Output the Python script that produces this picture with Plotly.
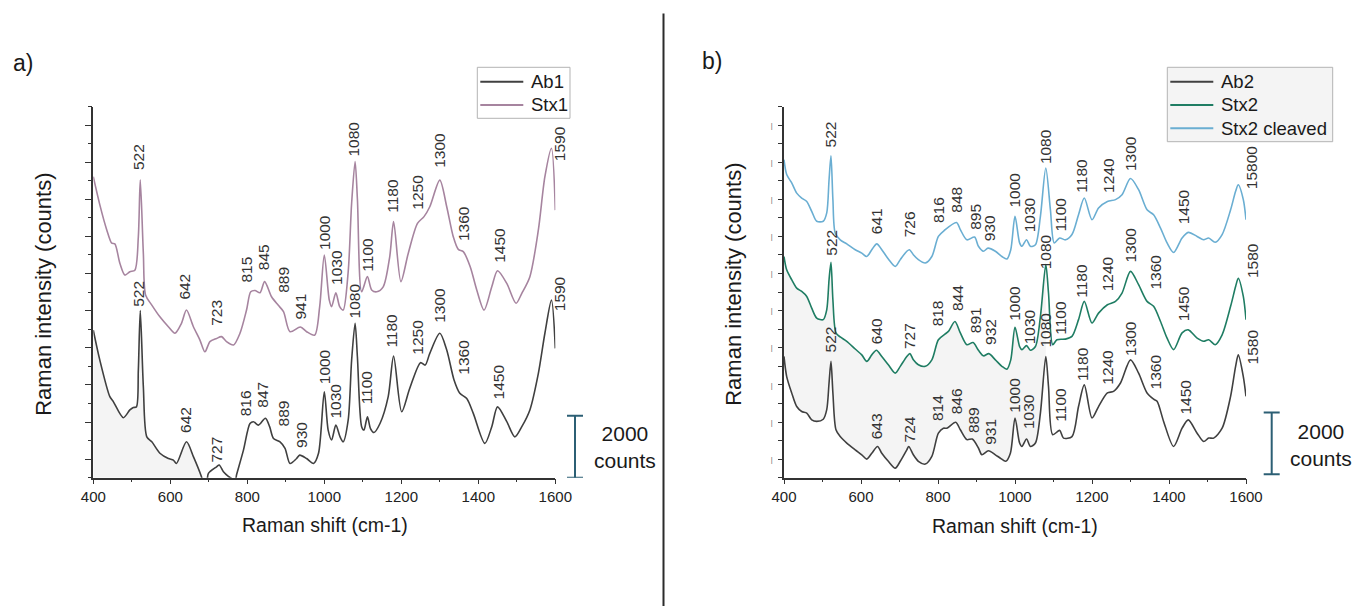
import plotly.graph_objects as go

# ---------------- spectra (Raman shift in cm-1, intensity in counts) ----------------
SHIFT_AB1 = [400, 417, 443, 452, 478, 495, 504, 512, 517, 522, 530, 539, 552, 573, 595, 608, 616,
             642, 660, 681, 688, 695, 699, 720, 727, 738, 750, 762, 770, 772, 790, 807, 816, 829,
             847, 858, 868, 885, 898, 911, 928, 936, 954, 972, 985, 1000, 1010, 1019, 1030, 1041,
             1049, 1062, 1071, 1080, 1086, 1097, 1103, 1112, 1120, 1129, 1145, 1166, 1180, 1201,
             1222, 1250, 1262, 1274, 1300, 1318, 1337, 1352, 1370, 1387, 1417, 1435, 1450, 1474,
             1495, 1513, 1534, 1556, 1573, 1590, 1600]
INT_AB1 = [4770, 3800, 2620, 2460, 1940, 2190, 2270, 2290, 3480, 5400, 2940, 1320, 1160, 790, 620, 570, 460,
           1160, 680, 30, -250, -120, 140, 350, 410, 190, 50, -40, -20, 85, 890, 1750, 1810, 1700,
           1920, 1650, 1270, 1160, 950, 460, 620, 730, 620, 460, 790, 2780, 1540, 1220, 1700, 1320,
           1160, 1860, 3800, 4990, 3900, 1650, 1540, 1970, 1590, 1460, 1760, 2620, 3930, 2130,
           2890, 3720, 3640, 4020, 4670, 4130, 3160, 2730, 2560, 2080, 1110, 1650, 2290, 1810,
           1320, 1650, 2190, 3370, 4670, 5740, 4180]

SHIFT_STX1 = [400, 417, 435, 448, 456, 469, 482, 495, 508, 517, 522, 530, 536, 552, 573, 595, 612,
              629, 642, 660, 677, 690, 703, 720, 733, 746, 764, 781, 798, 809, 820, 833, 845, 863,
              880, 894, 911, 938, 954, 975, 988, 1000, 1013, 1019, 1030, 1040, 1049, 1062, 1071,
              1080, 1086, 1097, 1112, 1123, 1136, 1153, 1170, 1180, 1199, 1218, 1242, 1259, 1274,
              1300, 1318, 1335, 1348, 1361, 1379, 1396, 1415, 1435, 1450, 1474, 1498, 1513, 1534,
              1556, 1573, 1590, 1600]
INT_STX1 = [9730, 8820, 8010, 7580, 7560, 6930, 6550, 6660, 6710, 7790, 9630, 7250, 5900, 5580, 5200, 4880, 4670,
            4990, 5420, 4880, 4450, 4070, 4400, 4500, 4560, 4400, 4290, 4670, 5420, 6010, 6050, 5980, 6340, 5850,
            5580, 5370, 4720, 4870, 4720, 4610, 5530, 7200, 5740, 5530, 5980, 5530, 5420, 6650, 8870,
            10220, 9000, 6010, 6500, 6070, 6010, 6170, 7150, 8280, 6340, 7250, 8220, 8440, 8760,
            9620, 8760, 7790, 7380, 7310, 6820, 6070, 5420, 6170, 6690, 6280, 5640, 5960, 6500,
            8010, 9730, 10650, 8650]

SHIFT_AB2 = [400, 407, 420, 433, 446, 459, 472, 485, 502, 511, 517, 522, 527, 535, 546, 563, 585, 602,
             615, 628, 643, 654, 671, 689, 702, 719, 724, 736, 749, 767, 784, 801, 814, 823, 846, 858,
             875, 889, 905, 914, 931, 949, 962, 976, 988, 1000, 1012, 1018, 1030, 1040, 1053, 1066,
             1080, 1087, 1098, 1116, 1126, 1148, 1165, 1180, 1200, 1217, 1240, 1256, 1274, 1300,
             1321, 1343, 1360, 1369, 1386, 1412, 1434, 1450, 1473, 1490, 1503, 1516, 1538, 1560,
             1573, 1580, 1593, 1600]
INT_AB2 = [3920, 3270, 2740, 2300, 2140, 2090, 1870, 1820, 1890, 2200, 3060, 3760, 2740, 1550, 1330, 1120, 900, 740,
           600, 790, 1010, 790, 530, 310, 530, 900, 1010, 740, 530, 440, 690, 1440, 1600, 1600, 1790, 1550,
           1230, 1250, 960, 740, 870, 740, 630, 530, 790, 1930, 1120, 1010, 1250, 1010, 1120, 2090,
           3920, 2950, 1390, 1530, 1280, 1330, 2300, 3000, 1930, 2300, 2740, 2790, 3060, 3810,
           3380, 2740, 2540, 2470, 1820, 1010, 1600, 1870, 1440, 1170, 1280, 1280, 1600, 2630,
           3600, 3970, 3270, 2630]

SHIFT_STX2 = [400, 407, 420, 433, 446, 459, 472, 485, 502, 511, 517, 522, 527, 535, 546, 563, 585, 602,
              615, 628, 640, 654, 671, 689, 702, 719, 727, 736, 749, 767, 784, 801, 818, 827, 844, 858,
              875, 891, 905, 918, 932, 949, 966, 979, 989, 1000, 1012, 1018, 1030, 1040, 1053, 1066,
              1080, 1087, 1098, 1109, 1131, 1148, 1165, 1180, 1200, 1217, 1240, 1261, 1278, 1300,
              1321, 1343, 1360, 1378, 1395, 1412, 1434, 1450, 1473, 1490, 1503, 1520, 1538, 1560,
              1573, 1580, 1593, 1600]
INT_STX2 = [7150, 6720, 6400, 6130, 6020, 5860, 5480, 5160, 5110, 5430, 6400, 6960, 5750, 4680, 4550, 4410, 4160, 3970,
            3760, 3970, 4120, 3920, 3650, 3380, 3600, 3920, 4010, 3810, 3650, 3600, 3810, 4460, 4640, 4730, 5050, 4680,
            4300, 4370, 4120, 3940, 4010, 3810, 3600, 3510, 3810, 4860, 4240, 4140, 4270, 4120, 4240, 5210,
            6890, 5970, 4300, 4460, 4480, 4570, 5110, 5700, 5000, 5320, 5590, 5700, 5970, 6670,
            6240, 5700, 5540, 5050, 4510, 4140, 4680, 4780, 4510, 4410, 4460, 4300, 4620, 5540,
            6180, 6450, 5860, 5110]

SHIFT_STX2C = [400, 407, 420, 433, 446, 459, 472, 485, 502, 511, 517, 522, 527, 533, 546, 563, 585, 602,
               615, 628, 641, 654, 671, 689, 702, 719, 726, 736, 749, 767, 784, 801, 816, 848, 858, 875,
               895, 905, 918, 930, 949, 966, 979, 989, 1000, 1012, 1018, 1030, 1040, 1053, 1066, 1080,
               1092, 1102, 1116, 1131, 1148, 1165, 1180, 1200, 1217, 1240, 1261, 1278, 1300, 1321,
               1343, 1360, 1378, 1395, 1412, 1434, 1450, 1473, 1490, 1503, 1520, 1538, 1560, 1573,
               1580, 1593, 1600]
INT_STX2C = [10280, 9800, 9530, 9200, 9040, 8930, 8610, 8290, 8290, 8560, 9630, 10410, 8990, 7910, 7690, 7560, 7370, 7260,
             7150, 7370, 7560, 7370, 7070, 6830, 7050, 7320, 7370, 7210, 7050, 6940, 7150, 7800, 7990, 8250, 8020, 7690,
             7780, 7480, 7320, 7420, 7320, 7150, 7070, 7370, 8450, 7590, 7480, 7690, 7480, 7530, 8450, 10010,
             8660, 7590, 7750, 7690, 7860, 8500, 9040, 8340, 8720, 8930, 8990, 9150, 9670, 9310,
             8660, 8500, 8070, 7590, 7280, 7750, 7930, 7800, 7690, 7750, 7610, 7860, 8660, 9260,
             9470, 8990, 8340]

# ---------------- peak annotations: (text, shift, intensity at label base) ----------------
PEAKS_STX1 = [("522", 517, 9890), ("642", 638, 5690), ("723", 720, 4830), ("815", 798, 6230),
              ("845", 842, 6660), ("889", 895, 5910), ("941", 939, 5040), ("1000", 999, 7310),
              ("1030", 1030, 6180), ("1080", 1077, 10330), ("1100", 1112, 6610), ("1180", 1175, 8490),
              ("1250", 1242, 8600), ("1300", 1299, 9950), ("1360", 1361, 7580), ("1450", 1455, 6880),
              ("1590", 1613, 10160)]
PEAKS_AB1 = [("522", 517, 5470), ("642", 638, 1380), ("727", 720, 410), ("816", 794, 1920),
             ("847", 840, 2190), ("889", 895, 1590), ("930", 939, 890), ("1000", 999, 2970),
             ("1030", 1030, 1860), ("1080", 1077, 5100), ("1100", 1112, 2320), ("1180", 1175, 4130),
             ("1250", 1242, 3910), ("1300", 1299, 4940), ("1360", 1361, 3260), ("1450", 1452, 2460),
             ("1590", 1613, 5310)]
PEAKS_STX2C = [("522", 521, 10600), ("641", 641, 7800), ("726", 726, 7690), ("816", 801, 8180),
               ("848", 849, 8500), ("895", 897, 7960), ("930", 936, 7590), ("1000", 998, 8660),
               ("1030", 1037, 7860), ("1080", 1079, 10070), ("1100", 1118, 7910), ("1180", 1174, 9150),
               ("1240", 1241, 9150), ("1300", 1300, 9850), ("1450", 1438, 8130), ("15800", 1614, 9260)]
PEAKS_STX2 = [("522", 521, 7100), ("640", 641, 4240), ("727", 726, 4080), ("818", 801, 4840),
              ("844", 849, 5320), ("891", 897, 4620), ("932", 936, 4240), ("1000", 998, 5000),
              ("1030", 1037, 4240), ("1080", 1079, 6670), ("1100", 1118, 4570), ("1180", 1174, 5750),
              ("1240", 1241, 5970), ("1300", 1300, 6890), ("1360", 1365, 6020), ("1450", 1438, 5000),
              ("1580", 1615, 6400)]
PEAKS_AB2 = [("522", 521, 3970), ("643", 641, 1170), ("724", 726, 1060), ("814", 797, 1760),
             ("846", 849, 1980), ("889", 892, 1390), ("931", 936, 1010), ("1000", 998, 2030),
             ("1030", 1037, 1500), ("1080", 1079, 4140), ("1100", 1118, 1760), ("1180", 1174, 3060),
             ("1240", 1241, 2950), ("1300", 1300, 3870), ("1360", 1365, 2790), ("1450", 1443, 1980),
             ("1580", 1617, 3600)]

X_TICKS = [400, 600, 800, 1000, 1200, 1400, 1600]
Y_MAJOR = [600, 1800, 3000, 4200, 5400, 6600, 7800, 9000, 10200, 11400]
SCALE_COUNTS = 2000
SCALE_BASE_LEFT = 0
SCALE_BASE_RIGHT = 110
FILL_END_AB1 = 688
FILL_END_AB2 = 1080

FONT = "Liberation Sans, Arial, sans-serif"
C_AB = "#404040"
C_STX1 = "#a6849f"
C_STX2 = "#1f7d63"
C_STX2C = "#6aaed2"
C_BAR = "#2c5f74"
C_FILL = "#f4f4f4"
W, H = 1357, 606
X_MIN, X_MAX = 400, 1600
PX_PER_SHIFT = 462.0 / 1200.0   # plot width in px over the shift range


def px(v, total):
    return v / total


fig = go.Figure()


def upto(xs, ys, limit):
    pairs = [(a, b) for a, b in zip(xs, ys) if a <= limit]
    return [p[0] for p in pairs], [p[1] for p in pairs]


# shaded regions under / between spectra
fx, fy = upto(SHIFT_AB1, INT_AB1, FILL_END_AB1)
fig.add_trace(go.Scatter(x=fx, y=fy, xaxis="x", yaxis="y", fill="tozeroy", fillcolor=C_FILL,
                         mode="lines", line=dict(width=0, shape="spline", smoothing=0.8),
                         showlegend=False, hoverinfo="skip"))
fx, fy = upto(SHIFT_AB2, INT_AB2, FILL_END_AB2)
fig.add_trace(go.Scatter(x=fx, y=fy, xaxis="x2", yaxis="y2", mode="lines",
                         line=dict(width=0, shape="spline", smoothing=0.8),
                         showlegend=False, hoverinfo="skip"))
fx, fy = upto(SHIFT_STX2, INT_STX2, FILL_END_AB2)
fig.add_trace(go.Scatter(x=fx, y=fy, xaxis="x2", yaxis="y2", mode="lines", fill="tonexty",
                         fillcolor=C_FILL, line=dict(width=0, shape="spline", smoothing=0.8),
                         showlegend=False, hoverinfo="skip"))

# spectra lines
series = [
    ("Ab1", SHIFT_AB1, INT_AB1, C_AB, "x", "y"),
    ("Stx1", SHIFT_STX1, INT_STX1, C_STX1, "x", "y"),
    ("Ab2", SHIFT_AB2, INT_AB2, C_AB, "x2", "y2"),
    ("Stx2", SHIFT_STX2, INT_STX2, C_STX2, "x2", "y2"),
    ("Stx2 cleaved", SHIFT_STX2C, INT_STX2C, C_STX2C, "x2", "y2"),
]
for name, xs, ys, col, xa, ya in series:
    fig.add_trace(go.Scatter(x=xs, y=ys, name=name, xaxis=xa, yaxis=ya, mode="lines",
                             showlegend=False,
                             line=dict(color=col, width=1.6, shape="spline", smoothing=0.8)))

annotations = []
for peaks, xr, yr in [(PEAKS_STX1, "x", "y"), (PEAKS_AB1, "x", "y"),
                      (PEAKS_STX2C, "x2", "y2"), (PEAKS_STX2, "x2", "y2"), (PEAKS_AB2, "x2", "y2")]:
    for txt, xv, yv in peaks:
        # labels placed past the right end of the axis are anchored at the end and nudged in px
        xa = min(xv, X_MAX)
        annotations.append(dict(text=txt, x=xa, y=yv, xref=xr, yref=yr, textangle=-90,
                                xshift=(xv - xa) * PX_PER_SHIFT,
                                xanchor="center", yanchor="bottom", showarrow=False,
                                font=dict(size=15.5, color="#333333", family=FONT)))


# panel letters, axis titles, scale-bar captions
def ptext(text, x, y, size, angle=0, anchor="center"):
    annotations.append(dict(text=text, x=px(x, W), y=1 - px(y, H), xref="paper", yref="paper",
                            xanchor=anchor, yanchor="middle", showarrow=False, textangle=angle,
                            font=dict(size=size, color="#1a1a1a", family=FONT)))


ptext("a)", 23, 63, 23)
ptext("b)", 712, 61, 23)
ptext("Raman shift (cm-1)", 324.5, 525, 19.5)
ptext("Raman shift (cm-1)", 1014.6, 526, 19.5)
ptext("Raman intensity (counts)", 43.3, 294.5, 22, -90)
ptext("Raman intensity (counts)", 732.8, 284, 22, -90)
ptext("2000<br>counts", 625, 447, 21)
ptext("2000<br>counts", 1320.8, 444.6, 21)

shapes = []
# panel divider
shapes.append(dict(type="line", xref="paper", yref="paper", x0=px(663.5, W), x1=px(663.5, W),
                   y0=0, y1=1 - px(13.5, H), line=dict(color="#2b2b2b", width=2)))
# 2000-count scale bars
for xc, yref, base in [(575, "y", SCALE_BASE_LEFT), (1271.7, "y2", SCALE_BASE_RIGHT)]:
    top = base + SCALE_COUNTS
    shapes.append(dict(type="line", xref="paper", yref=yref, x0=px(xc, W), x1=px(xc, W),
                       y0=base, y1=top, line=dict(color=C_BAR, width=2)))
    for yy in (base, top):
        shapes.append(dict(type="line", xref="paper", yref=yref, x0=px(xc - 8, W), x1=px(xc + 8, W),
                           y0=yy, y1=yy, line=dict(color=C_BAR, width=2)))

# legend boxes: (box left, top, right, bottom, background, entries)
legend_boxes = [
    (477.3, 67.3, 570, 118.3, "white", [("Ab1", C_AB), ("Stx1", C_STX1)]),
    (1167.3, 67.3, 1332.7, 141.7, "#f4f4f4", [("Ab2", C_AB), ("Stx2", C_STX2), ("Stx2 cleaved", C_STX2C)]),
]
ROW_STEP = 23.3
for x0, y0, x1, y1, bg, entries in legend_boxes:
    shapes.append(dict(type="rect", xref="paper", yref="paper", x0=px(x0, W), x1=px(x1, W),
                       y0=1 - px(y1, H), y1=1 - px(y0, H), fillcolor=bg, layer="below",
                       line=dict(color="#b3b3b3", width=1)))
    for i, (name, col) in enumerate(entries):
        yc = y0 + 14.4 + i * ROW_STEP
        shapes.append(dict(type="line", xref="paper", yref="paper", x0=px(x0 + 3, W), x1=px(x0 + 46, W),
                           y0=1 - px(yc, H), y1=1 - px(yc, H), line=dict(color=col, width=2)))
        ptext(name, x0 + 51.5, yc, 18.5, anchor="left")

x_dom_l = [px(93.3, W), px(555.3, W)]
x_dom_r = [px(784, W), px(1246, W)]
y_dom = [1 - px(477.7, H), 1 - px(106.5, H)]

xaxis_common = dict(range=[X_MIN, X_MAX], tickmode="array", tickvals=X_TICKS, ticks="outside", ticklen=5,
                    tickwidth=1.2, tickcolor="#333", showline=True, linecolor="#333", linewidth=1.5,
                    showgrid=False, zeroline=False, automargin=False,
                    tickfont=dict(size=15, color="#222", family=FONT),
                    minor=dict(dtick=100, tick0=400, ticklen=3, ticks="outside", tickcolor="#333"))
yaxis_common = dict(range=[0, 12000], showline=True, linecolor="#333", linewidth=1.5, showgrid=False,
                    zeroline=False, ticks="outside", tickcolor="#333", tickwidth=1.2, automargin=False,
                    tickmode="array", tickvals=Y_MAJOR)

fig.update_layout(
    width=W, height=H, margin=dict(l=0, r=0, t=0, b=0, autoexpand=False),
    paper_bgcolor="white", plot_bgcolor="rgba(0,0,0,0)",
    font=dict(family=FONT, color="#222"),
    showlegend=False,
    xaxis=dict(domain=x_dom_l, anchor="y", **xaxis_common),
    xaxis2=dict(domain=x_dom_r, anchor="y2", **xaxis_common),
    yaxis=dict(domain=y_dom, anchor="x", ticklen=7, showticklabels=False,
               minor=dict(tick0=0, dtick=1200, ticklen=4, ticks="outside", tickcolor="#333"),
               **yaxis_common),
    yaxis2=dict(domain=y_dom, anchor="x2", ticklen=4, showticklabels=True,
                ticktext=["|"] * len(Y_MAJOR), tickfont=dict(size=7.5, color="#6e6e6e"),
                ticklabelstandoff=4,
                minor=dict(tick0=0, dtick=1200, ticklen=4, ticks="outside", tickcolor="#333"),
                **yaxis_common),
    annotations=annotations,
    shapes=shapes,
)

fig.write_html("out.html")
